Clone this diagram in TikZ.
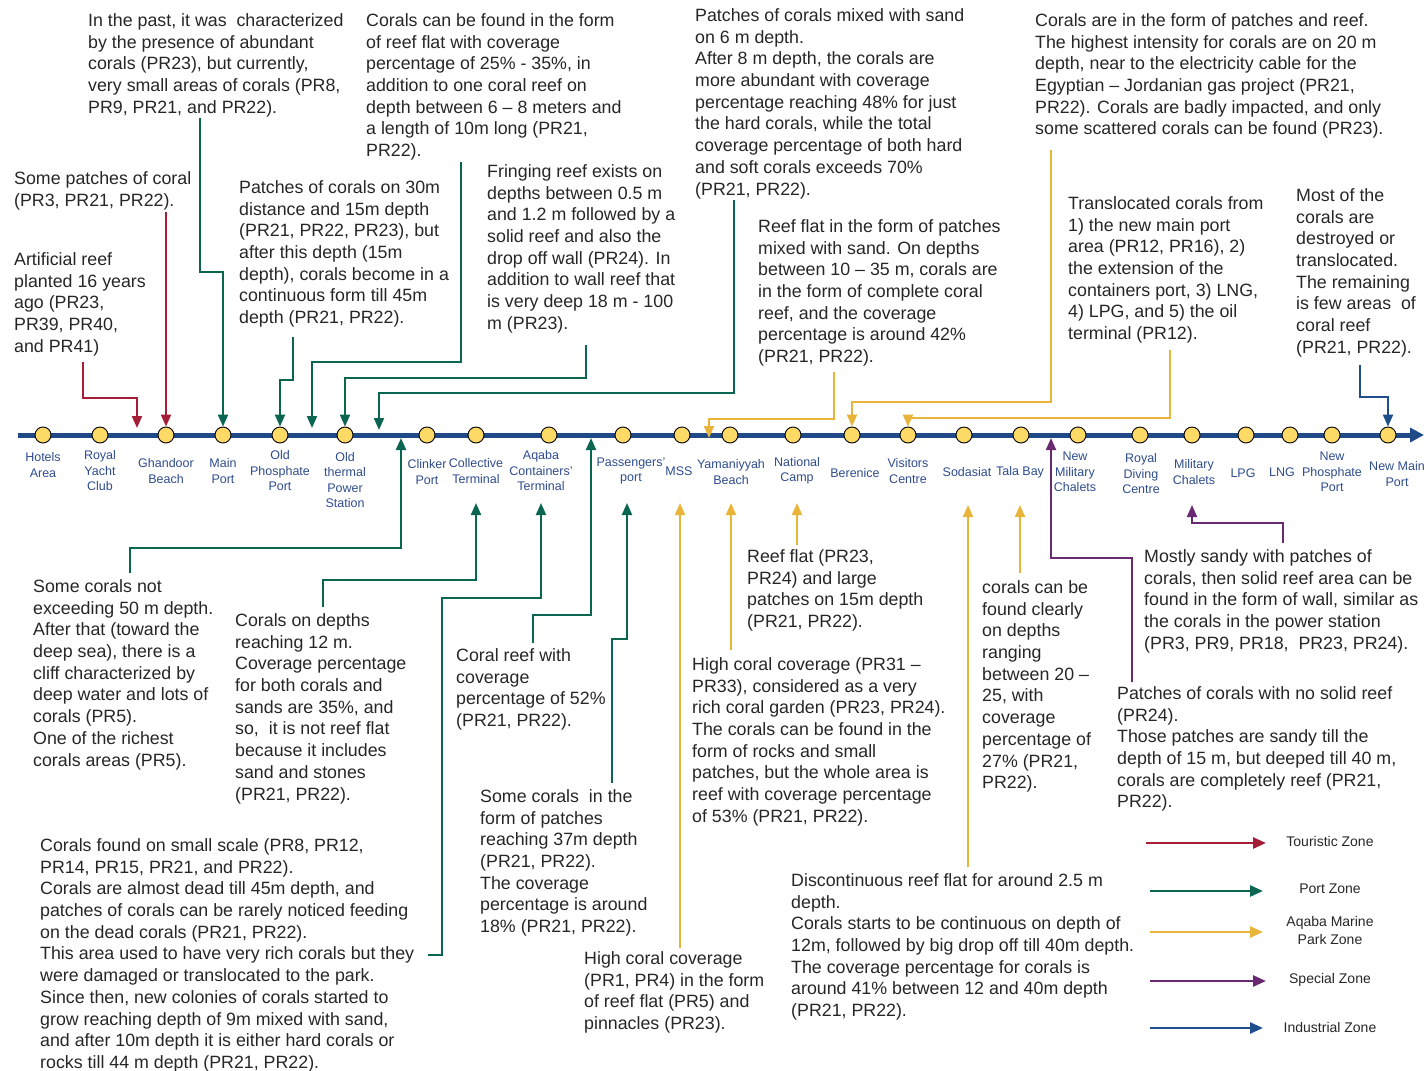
\documentclass[tikz,border=0pt]{standalone}
\usepackage{fontspec}
\setmainfont{Liberation Sans}
\usetikzlibrary{arrows.meta}
\definecolor{txt}{HTML}{262626}
\definecolor{stblue}{HTML}{2E4C8C}
\definecolor{lineblue}{HTML}{1F4A87}
\definecolor{stopfill}{HTML}{FDD965}
\definecolor{tzred}{HTML}{A51D36}
\definecolor{tzgreen}{HTML}{0A6650}
\definecolor{tzyellow}{HTML}{E9B43A}
\definecolor{tzpurple}{HTML}{6A2A72}
\definecolor{tzblue}{HTML}{1F4E8C}
\begin{document}
\begin{tikzpicture}[x=1pt,y=-1pt,
  body/.style={anchor=north west, inner sep=0pt, align=left, text=txt, yshift=-3pt,
    font=\fontsize{17.8}{21.7}\selectfont, execute at begin node=\strut},
  stlabel/.style={inner sep=0pt, align=center, text=stblue,
    font=\fontsize{12.5}{15.5}\selectfont},
  stopdot/.style={circle, draw=black, line width=0.9pt, fill=stopfill,
    minimum size=16pt, inner sep=0pt},
  link/.style={line width=2pt, -{Triangle[length=12pt,width=10pt]}},
  keyarrow/.style={line width=2.6pt, -{Triangle[length=13pt,width=11pt]}},
  keylabel/.style={inner sep=0pt, align=center, text=txt,
    font=\fontsize{14}{18}\selectfont}]
\useasboundingbox (0,0) rectangle (1425,1071);

% ---------------- main route line ----------------
\coordinate (routeA) at (18,435);
\coordinate (routeB) at (1424,435);
\draw[lineblue, line width=5pt, -{Triangle[length=14pt,width=14pt]}] (routeA) -- (routeB);

% ---------------- stops and their names ----------------
\foreach \nm/\cx/\lx/\ly/\lab in {
  hotels/43/43/465/{Hotels\\Area},
  ryc/100/100/471/{Royal\\Yacht\\Club},
  ghandoor/166/166/471/{Ghandoor\\Beach},
  mainport/223/223/471/{Main\\Port},
  oldphos/280/280/471/{Old\\Phosphate\\Port},
  oldtherm/345/345/480/{Old\\thermal\\Power\\Station},
  clinker/427/427/472/{Clinker\\Port},
  collective/476/476/471/{Collective\\Terminal},
  aqabact/549/541/471/{Aqaba\\Containers'\\Terminal},
  passengers/623/631/471/{Passengers'\\port},
  mss/682/679/471/{MSS},
  yamaniyyah/730/731/472/{Yamaniyyah\\Beach},
  natcamp/793/797/471/{National\\Camp},
  berenice/852/855/473/{Berenice},
  visitors/908/908/471/{Visitors\\Centre},
  sodasiat/964/967/472/{Sodasiat},
  talabay/1021/1020/472/{Tala Bay},
  newmil/1078/1075/472/{New\\Military\\Chalets},
  royaldiving/1140/1141/474/{Royal\\Diving\\Centre},
  milchalets/1192/1194/472/{Military\\Chalets},
  lpg/1246/1243/473/{LPG},
  lng/1290/1282/472/{LNG},
  newphos/1332/1332/472/{New\\Phosphate\\Port},
  newmain/1388/1397/474/{New Main\\Port}}{
  \node[stopdot] (\nm) at (\cx,435) {};
  \node[stlabel] (\nm-name) at (\lx,\ly) {\lab};
}

% ---------------- notes above the line ----------------
\node[body] (past) at (88,10.3) {In the past, it was\ \ characterized\\by the presence of abundant\\corals (PR23), but currently,\\very small areas of corals (PR8,\\PR9, PR21, and PR22).};
\node[body] (reefflat) at (366,10.3) {Corals can be found in the form\\of reef flat with coverage\\percentage of 25\% - 35\%, in\\addition to one coral reef on\\depth between 6 – 8 meters and\\a length of 10m long (PR21,\\PR22).};
\node[body] (patchsand) at (695,5.3) {Patches of corals mixed with sand\\on 6 m depth.\\After 8 m depth, the corals are\\more abundant with coverage\\percentage reaching 48\% for just\\the hard corals, while the total\\coverage percentage of both hard\\and soft corals exceeds 70\%\\(PR21, PR22).};
\node[body] (gas) at (1035,10.3) {Corals are in the form of patches and reef.\\The highest intensity for corals are on 20 m\\depth, near to the electricity cable for the\\Egyptian – Jordanian gas project (PR21,\\PR22). Corals are badly impacted, and only\\some scattered corals can be found (PR23).};
\node[body] (somepatch) at (14,168.3) {Some patches of coral\\(PR3, PR21, PR22).};
\node[body] (artificial) at (14,249.3) {Artificial reef\\planted 16 years\\ago (PR23,\\PR39, PR40,\\and PR41)};
\node[body] (thirty) at (239,177.3) {Patches of corals on 30m\\distance and 15m depth\\(PR21, PR22, PR23), but\\after this depth (15m\\depth), corals become in a\\continuous form till 45m\\depth (PR21, PR22).};
\node[body] (fringing) at (487,161.3) {Fringing reef exists on\\depths between 0.5 m\\and 1.2 m followed by a\\solid reef and also the\\drop off wall (PR24). In\\addition to wall reef that\\is very deep 18 m - 100\\m (PR23).};
\node[body] (reefpatch) at (758,216.3) {Reef flat in the form of patches\\mixed with sand. On depths\\between 10 – 35 m, corals are\\in the form of complete coral\\reef, and the coverage\\percentage is around 42\%\\(PR21, PR22).};
\node[body] (transloc) at (1068,193.3) {Translocated corals from\\1) the new main port\\area (PR12, PR16), 2)\\the extension of the\\containers port, 3) LNG,\\4) LPG, and 5) the oil\\terminal (PR12).};
\node[body] (destroyed) at (1296,185.3) {Most of the\\corals are\\destroyed or\\translocated.\\The remaining\\is few areas\ \ of\\coral reef\\(PR21, PR22).};

% ---------------- notes below the line ----------------
\node[body] (fifty) at (33,576.3) {Some corals not\\exceeding 50 m depth.\\After that (toward the\\deep sea), there is a\\cliff characterized by\\deep water and lots of\\corals (PR5).\\One of the richest\\corals areas (PR5).};
\node[body] (twelve) at (235,610.3) {Corals on depths\\reaching 12 m.\\Coverage percentage\\for both corals and\\sands are 35\%, and\\so,\ \ it is not reef flat\\because it includes\\sand and stones\\(PR21, PR22).};
\node[body] (fiftytwo) at (456,645.3) {Coral reef with\\coverage\\percentage of 52\%\\(PR21, PR22).};
\node[body] (thirtyseven) at (480,786.3) {Some corals\ \ in the\\form of patches\\reaching 37m depth\\(PR21, PR22).\\The coverage\\percentage is around\\18\% (PR21, PR22).};
\node[body] (pinnacles) at (584,948.3) {High coral coverage\\(PR1, PR4) in the form\\of reef flat (PR5) and\\pinnacles (PR23).};
\node[body] (fifteen) at (747,546.3) {Reef flat (PR23,\\PR24) and large\\patches on 15m depth\\(PR21, PR22).};
\node[body] (garden) at (692,654.3) {High coral coverage (PR31 –\\PR33), considered as a very\\rich coral garden (PR23, PR24).\\The corals can be found in the\\form of rocks and small\\patches, but the whole area is\\reef with coverage percentage\\of 53\% (PR21, PR22).};
\node[body] (clearly) at (982,577.3) {corals can be\\found clearly\\on depths\\ranging\\between 20 –\\25, with\\coverage\\percentage of\\27\% (PR21,\\PR22).};
\node[body] (sandy) at (1144,546.3) {Mostly sandy with patches of\\corals, then solid reef area can be\\found in the form of wall, similar as\\the corals in the power station\\(PR3, PR9, PR18,\ \ PR23, PR24).};
\node[body] (noreef) at (1117,683.3) {Patches of corals with no solid reef\\(PR24).\\Those patches are sandy till the\\depth of 15 m, but deeped till 40 m,\\corals are completely reef (PR21,\\PR22).};
\node[body] (smallscale) at (40,835.3) {Corals found on small scale (PR8, PR12,\\PR14, PR15, PR21, and PR22).\\Corals are almost dead till 45m depth, and\\patches of corals can be rarely noticed feeding\\on the dead corals (PR21, PR22).\\This area used to have very rich corals but they\\were damaged or translocated to the park.\\Since then, new colonies of corals started to\\grow reaching depth of 9m mixed with sand,\\and after 10m depth it is either hard corals or\\rocks till 44 m depth (PR21, PR22).};
\node[body] (discont) at (791,870.3) {Discontinuous reef flat for around 2.5 m\\depth.\\Corals starts to be continuous on depth of\\12m, followed by big drop off till 40m depth.\\The coverage percentage for corals is\\around 41\% between 12 and 40m depth\\(PR21, PR22).};

% ---------------- connector ends ----------------
\coordinate (artificial-out) at (83,362);
\coordinate (touristic-gap) at (137,428);
\coordinate (somepatch-out) at (166,212);
\coordinate (past-out) at (200,118);
\coordinate (thirty-out) at (293,337);
\coordinate (reefflat-out) at (461,162);
\coordinate (port-gap1) at (312,428);
\coordinate (fringing-out) at (586,345);
\coordinate (patchsand-out) at (734,200);
\coordinate (port-gap2) at (379,430);
\coordinate (reefpatch-out) at (834,372);
\coordinate (park-gap) at (709,438);
\coordinate (gas-out) at (1051,150);
\coordinate (transloc-out) at (1170,350);
\coordinate (destroyed-out) at (1360,365);

\coordinate (fifty-out) at (130,573);
\coordinate (port-gap3) at (401,438);
\coordinate (twelve-out) at (323,607);
\coordinate (smallscale-out) at (428,955);
\coordinate (fiftytwo-out) at (533,643);
\coordinate (port-gap4) at (591,438);
\coordinate (thirtyseven-out) at (612,783);
\coordinate (pinnacles-out) at (680,948);
\coordinate (garden-out) at (731,650);
\coordinate (fifteen-out) at (797,545);
\coordinate (discont-out) at (968,867);
\coordinate (clearly-out) at (1020,573);
\coordinate (noreef-out) at (1132,682);
\coordinate (special-gap) at (1051,438);
\coordinate (sandy-out) at (1283,543);

% ---------------- connectors from above ----------------
\draw[link, tzred] (artificial-out) |- (137,398) -- (touristic-gap);
\draw[link, tzred] (somepatch-out) -- (ghandoor.north);
\draw[link, tzgreen] (past-out) |- (223,272) -- (mainport.north);
\draw[link, tzgreen] (thirty-out) |- (280,380) -- (oldphos.north);
\draw[link, tzgreen] (reefflat-out) |- (312,362) -- (port-gap1);
\draw[link, tzgreen] (fringing-out) |- (345,378) -- (oldtherm.north);
\draw[link, tzgreen] (patchsand-out) |- (379,393) -- (port-gap2);
\draw[link, tzyellow] (reefpatch-out) |- (709,419) -- (park-gap);
\draw[link, tzyellow] (gas-out) |- (852,402) -- (berenice.north);
\draw[link, tzyellow] (transloc-out) |- (908,418) -- (visitors.north);
\draw[link, tzblue] (destroyed-out) |- (1388,397) -- (newmain.north);

% ---------------- connectors from below ----------------
\draw[link, tzgreen] (fifty-out) |- (401,548) -- (port-gap3);
\draw[link, tzgreen] (twelve-out) |- (476,580) -- (collective-name.south |- 0,503);
\draw[link, tzgreen] (smallscale-out) -| (442,598) -| (aqabact-name.south |- 0,503);
\draw[link, tzgreen] (fiftytwo-out) |- (591,615) -- (port-gap4);
\draw[link, tzgreen] (thirtyseven-out) |- (627,639) -- (627,503);
\draw[link, tzyellow] (pinnacles-out) -- (680,503);
\draw[link, tzyellow] (garden-out) -- (yamaniyyah-name.south |- 0,503);
\draw[link, tzyellow] (fifteen-out) -- (natcamp-name.south |- 0,503);
\draw[link, tzyellow] (discont-out) -- (968,505);
\draw[link, tzyellow] (clearly-out) -- (talabay-name.south |- 0,505);
\draw[link, tzpurple] (noreef-out) |- (1051,558) -- (special-gap);
\draw[link, tzpurple] (sandy-out) |- (1192,523) -- (1192,505);

% ---------------- key ----------------
\foreach \k/\col/\xa/\xb/\yy/\lab/\ly in {
  touristic/tzred/1146/1266/843/{Touristic Zone}/841,
  port/tzgreen/1150/1263/891/{Port Zone}/889,
  park/tzyellow/1150/1263/932/{Aqaba Marine\\Park Zone}/930,
  special/tzpurple/1150/1266/981/{Special Zone}/980,
  industrial/tzblue/1150/1263/1028/{Industrial Zone}/1027}{
  \coordinate (key-\k-a) at (\xa,\yy);
  \coordinate (key-\k-b) at (\xb,\yy);
  \draw[keyarrow, \col] (key-\k-a) -- (key-\k-b);
  \node[keylabel] (key-\k) at (1330,\ly) {\lab};
}
\end{tikzpicture}
\end{document}
